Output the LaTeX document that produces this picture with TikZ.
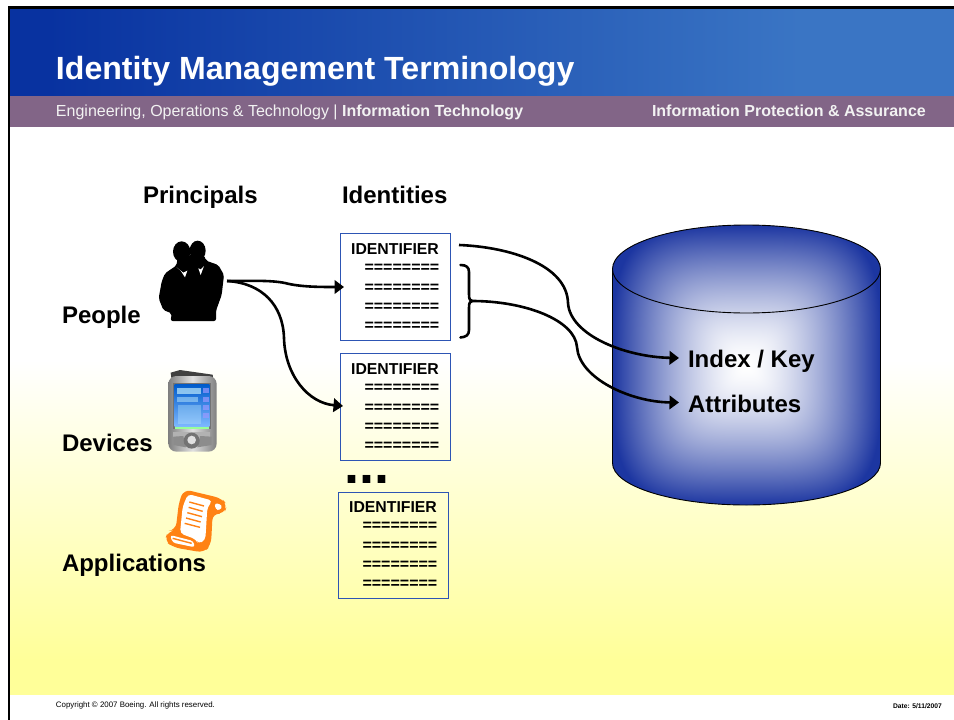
\documentclass[tikz,border=0pt]{standalone}
\usepackage{fontspec}
\setmainfont{Liberation Sans}
\usetikzlibrary{arrows.meta}
\pgfdeclarefunctionalshading{cylglow}{\pgfpoint{0bp}{0bp}}{\pgfpoint{100bp}{100bp}}{}{
  50 sub 25 div abs dup mul dup mul
  exch
  50 sub 25 div abs dup mul dup mul
  add sqrt sqrt
  dup sqrt mul
  dup 1 gt {pop 1} if
  dup dup
  0.89 mul 1 exch sub
  3 1 roll
  0.79 mul 1 exch sub
  exch
  0.37 mul 1 exch sub
}
\definecolor{hdrL}{RGB}{8,50,160}
\definecolor{hdrR}{RGB}{58,117,196}
\definecolor{barP}{RGB}{130,101,135}
\definecolor{boxB}{RGB}{45,85,180}
\definecolor{yel}{RGB}{255,255,153}
\definecolor{orng}{RGB}{255,130,20}
\newcommand{\fs}[1]{\fontsize{#1}{#1}\selectfont}
\tikzset{
  txt/.style={inner sep=0pt,outer sep=0pt,anchor=base west},
  head/.style={txt,font=\fs{24}\bfseries},
  lab/.style={txt,font=\fs{24}\bfseries},
  idbox/.style={draw=boxB,line width=1.1pt,minimum width=109.5pt,minimum height=107pt,inner sep=0pt,anchor=north west},
  idhead/.style={inner sep=0pt,font=\fs{15.8}\bfseries,anchor=base},
  idrow/.style={inner sep=0pt,font=\fs{16}\bfseries,anchor=base east},
  conn/.style={draw=black,line width=2.6pt,-{Triangle[length=9.5pt,width=13.5pt]}},
  plainconn/.style={draw=black,line width=2.6pt,line cap=round,line join=round},
}
\begin{document}
\begin{tikzpicture}[x=1pt,y=-1pt]
\useasboundingbox (0,0) rectangle (954,720);
\fill[white] (0,0) rectangle (954,720);
% background
\shade[top color=white,bottom color=yel] (9,360) rectangle (954,660);
\fill[yel] (9,659.5) rectangle (954,695);
% header
\fill[hdrL] (10,8) rectangle (48,96);
\shade[left color=hdrL,right color=hdrR] (48,8) rectangle (800,96);
\fill[hdrR] (799.5,8) rectangle (954,96);
\fill[barP] (10,96) rectangle (954,127);
\fill[black] (7.5,6) rectangle (954,8.8);
\fill[black] (7.5,6) rectangle (10,720);
\node[txt,text=white,font=\fs{32.1}\bfseries] (title) at (56,79) {Identity Management Terminology};
\node[txt,text=white!95!black,font=\fs{16}] (sub) at (56,116) {Engineering, Operations \& Technology | \textbf{Information Technology}};
\node[txt,text=white!95!black,font=\fs{16}\bfseries] (sub2) at (652,116) {Information Protection \& Assurance};
\node[txt,font=\fs{7.9}] (copy) at (56,707) {Copyright © 2007 Boeing. All rights reserved.};
\node[inner sep=0pt,anchor=base east,font=\fs{6.7}\bfseries] (date) at (942,708) {Date: 5/11/2007};
% column heads
\node[head] (principals) at (143,203) {Principals};
\node[head] (identities) at (342,203) {Identities};
% people
\begin{scope}[shift={(130,220)},scale=1/3]
  \fill[black] (155,95) ellipse (26 and 31);
  \fill[black] (203,92) ellipse (24 and 30);
  \fill[black,rounded corners=2pt] (142,115) -- (140,136) -- (105,160) -- (95,185) -- (86,235) -- (100,270) -- (125,280) -- (122,303) -- (258,303) -- (258,272) -- (275,225) -- (282,165) -- (265,135) -- (228,122) -- (222,105) -- (180,105) -- cycle;
  \fill[white] (140,142) -- (152,152) -- (165,172) -- (172,152) -- (160,158) -- cycle;
  \fill[white] (205,145) -- (212,165) -- (222,138) -- (212,148) -- cycle;
\end{scope}
% pda
\begin{scope}[shift={(130,220)},scale=1/3]
  \fill[black!75] (122,458) -- (150,450) -- (248,464) -- (250,480) -- (125,480) -- cycle;
  \shade[left color=black!50,right color=black!50,middle color=black!12,rounded corners=8pt] (115,468) rectangle (260,695);
  \fill[black!55] (130,490) rectangle (242,628);
  \shade[top color=blue!55!cyan!80!black,bottom color=cyan!45!blue!50] (134,494) rectangle (238,620);
  \fill[white!75!cyan,opacity=.7] (140,505) rectangle (212,522);
  \fill[white!75!cyan,opacity=.5] (140,530) rectangle (205,545);
  \fill[white!75!cyan,opacity=.35] (145,555) rectangle (212,612);
  \foreach \yy in {505,530,555,580}{\fill[white!60!blue,opacity=.7] (220,\yy) rectangle (236,\yy+15);}
  \fill[green!40!white] (135,622) rectangle (236,628);
  \fill[black!30] (130,636) rectangle (240,650);
  \fill[black!45] (130,650) -- (160,648) -- (168,682) -- (130,675) -- cycle;
  \fill[black!45] (245,650) -- (210,648) -- (202,682) -- (245,675) -- cycle;
  \fill[black!55] (185,662) circle (24);
  \fill[black!12] (185,660) circle (13);
\end{scope}
% scroll
\begin{scope}[shift={(130,470)},scale=1/3]
  \fill[orng,rounded corners=7pt] (162,58) -- (275,85) -- (292,105) -- (282,132) -- (248,130) -- (243,225) -- (222,248) -- (130,232) -- (103,212) -- (115,183) -- (137,180) -- (147,95) -- cycle;
  \fill[white,rounded corners=4pt] (174,72) -- (248,92) -- (232,112) -- (226,210) -- (205,222) -- (198,208) -- (150,190) -- (158,110) -- cycle;
  \fill[white,rounded corners=3pt] (254,98) -- (278,106) -- (270,122) -- (256,118) -- cycle;
  \fill[white,rounded corners=3pt] (120,195) -- (190,213) -- (195,232) -- (128,218) -- cycle;
  \draw[orng,line width=1.4pt] (178,96) -- (222,108) (176,112) -- (218,124) (172,128) -- (216,140) (168,144) -- (212,156) (164,160) -- (210,172);
  \draw[orng,line width=1.4pt] (128,205) -- (185,220);
\end{scope}
% labels
\node[lab] (people) at (62,323) {People};
\node[lab] (devices) at (62,451) {Devices};
\node[lab] (apps) at (62,571) {Applications};
% cylinder
\path[shading=cylglow] (612.5,269) arc[start angle=180,end angle=360,x radius=134,y radius=44] -- (880.5,463) arc[start angle=0,end angle=180,x radius=134,y radius=42] -- cycle;
\draw[black,line width=0.9pt] (612.5,269) arc[start angle=180,end angle=360,x radius=134,y radius=44] -- (880.5,463) arc[start angle=0,end angle=180,x radius=134,y radius=42] -- cycle;
\draw[black,line width=0.9pt] (612.5,269) arc[start angle=180,end angle=0,x radius=134,y radius=44];
\node[lab] (index) at (688,367) {Index / Key};
\node[lab] (attr) at (688,412) {Attributes};
% identity boxes
\node[idbox] (box1) at (340,233) {};
\node[idbox] (box2) at (340,353) {};
\node[idbox,minimum height=105.5pt] (box3) at (338,492) {};
\foreach \b/\x/\y in {box1/395/254,box2/395/374,box3/393/512}{
  \node[idhead] (\b h) at (\x,\y) {IDENTIFIER};
  \foreach \r/\d in {a/18.5,b/38,c/57,d/76}{
    \node[idrow] (\b\r) at ({\x+44.5},{\y+\d}) {========};
  }
}
\node[inner sep=0pt,anchor=base west,font=\fs{54}\bfseries] (dots) at (344.5,483) {...};
% brace
\coordinate (bracetip) at (472,301);
\draw[plainconn] (460.5,265) .. controls (466,265) and (469,267) .. (469,272) -- (469,294) .. controls (469,299) and (470,301) .. (bracetip) .. controls (470,301) and (469,303) .. (469,308) -- (469,330) .. controls (469,335) and (466,337) .. (460.5,337.5);
% connectors
\coordinate (peopleout) at (227,281);
\coordinate (in1) at (344,287);
\coordinate (in2) at (343,406);
\coordinate (idout) at (459,245);
\coordinate (keyin) at (679,358);
\coordinate (attrin) at (679,402.5);
\draw[conn] (peopleout) .. controls (250,281) and (270,280) .. (285,283) .. controls (300,287) and (320,287) .. (in1);
\draw[conn] (peopleout) .. controls (262,283) and (283,305) .. (284,338) .. controls (285,375) and (308,403) .. (in2);
\draw[conn] (idout) .. controls (510,247) and (567,265) .. (568,303) .. controls (570,335) and (625,357) .. (keyin);
\draw[conn] (bracetip) .. controls (525,301) and (575,320) .. (577,347) .. controls (579,378) and (630,402) .. (attrin);
\end{tikzpicture}
\end{document}
